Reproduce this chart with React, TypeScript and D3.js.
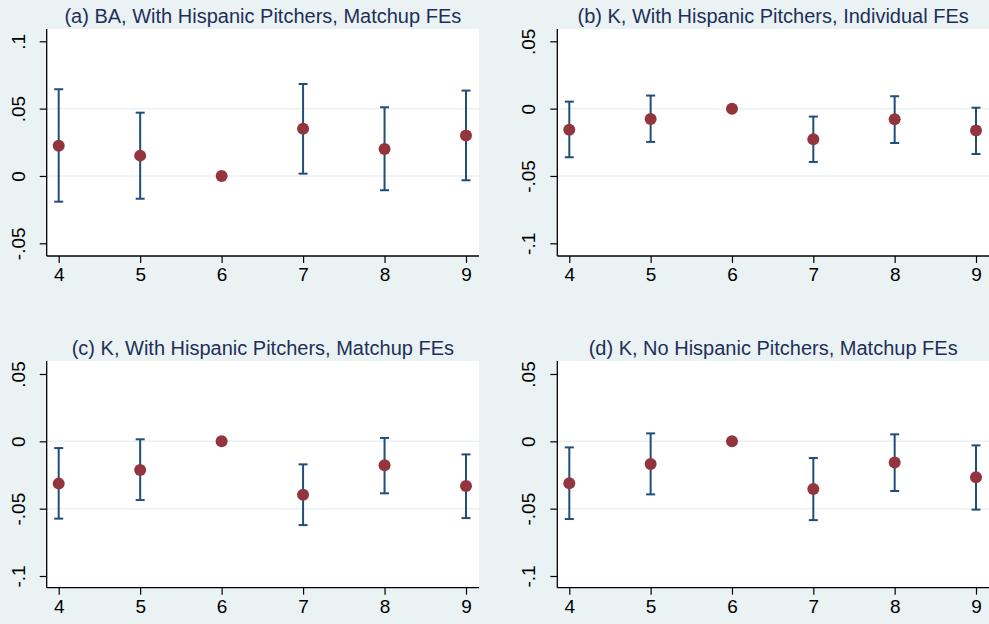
import React, { useEffect, useRef } from 'react';
import * as d3 from 'd3';

// x positions (lineup spot)
const spots = [4, 5, 6, 7, 8, 9];

// panel titles
const titles = [
  '(a) BA, With Hispanic Pitchers, Matchup FEs',
  '(b) K, With Hispanic Pitchers, Individual FEs',
  '(c) K, With Hispanic Pitchers, Matchup FEs',
  '(d) K, No Hispanic Pitchers, Matchup FEs',
];

// point estimates per panel
const estA = [0.0225, 0.0151, 0, 0.0351, 0.0200, 0.0300];
const estB = [-0.0156, -0.0077, 0, -0.0227, -0.0079, -0.0163];
const estC = [-0.0314, -0.0213, 0, -0.0396, -0.0178, -0.0332];
const estD = [-0.0312, -0.0169, 0, -0.0354, -0.0158, -0.0267];

// upper / lower confidence bounds (null = no bar, reference category)
const hiA = [0.0644, 0.0470, null, 0.0683, 0.0510, 0.0634];
const loA = [-0.0191, -0.0169, null, 0.0017, -0.0106, -0.0032];
const hiB = [0.0052, 0.0097, null, -0.0059, 0.0092, 0.0007];
const loB = [-0.0361, -0.0247, null, -0.0396, -0.0255, -0.0337];
const hiC = [-0.0050, 0.0015, null, -0.0171, 0.0025, -0.0097];
const loC = [-0.0574, -0.0436, null, -0.0622, -0.0386, -0.0570];
const hiD = [-0.0045, 0.0059, null, -0.0124, 0.0052, -0.0030];
const loD = [-0.0577, -0.0394, null, -0.0585, -0.0369, -0.0507];

// y ticks per panel
const ticksA = [-0.05, 0, 0.05, 0.1];
const ticksK = [-0.1, -0.05, 0, 0.05];

const fmt = (v: number) => {
  if (v === 0) return '0';
  const s = String(+v.toFixed(2));
  return s.replace('0.', '.');
};

const W = 989;
const H = 624;
const BG = '#eaf2f3';
const NAVY = '#1f4e79';
const MAROON = '#93353d';
const TITLE = '#1e2f5a';
const FONT = '"Liberation Sans", Arial, sans-serif';
const FS = 19;
const TFS = 20;

const App = () => {
  const svgRef = useRef<SVGSVGElement | null>(null);

  useEffect(() => {
    const svg = d3.select(svgRef.current);
    svg.selectAll('*').remove();

    svg.append('rect').attr('width', W).attr('height', H).attr('fill', BG);

    const panels = [
      { title: titles[0], est: estA, hi: hiA, lo: loA, ticks: ticksA, L: 46.7, R: 479, T: 29, B: 256, yTop: 41.3, yBot: 243.3 },
      { title: titles[1], est: estB, hi: hiB, lo: loB, ticks: ticksK, L: 557.3, R: 989, T: 29, B: 256, yTop: 41.3, yBot: 243.3 },
      { title: titles[2], est: estC, hi: hiC, lo: loC, ticks: ticksK, L: 46.7, R: 479, T: 361, B: 587.7, yTop: 374, yBot: 576 },
      { title: titles[3], est: estD, hi: hiD, lo: loD, ticks: ticksK, L: 557.3, R: 989, T: 361, B: 587.7, yTop: 374, yBot: 576 },
    ];

    panels.forEach(p => {
      const g = svg.append('g');

      const x = d3.scaleLinear().domain([4, 9]).range([p.L + 12, p.R - 13]);
      const tMin = d3.min(p.ticks) as number;
      const tMax = d3.max(p.ticks) as number;
      const y = d3.scaleLinear().domain([tMin, tMax]).range([p.yBot, p.yTop]);

      // plot region
      g.append('rect')
        .attr('x', p.L).attr('y', p.T)
        .attr('width', p.R - p.L).attr('height', p.B - p.T)
        .attr('fill', '#ffffff');

      // grid lines at the inner ticks
      g.selectAll('.grid')
        .data(p.ticks.slice(1, -1))
        .enter()
        .append('line')
        .attr('x1', p.L).attr('x2', p.R)
        .attr('y1', d => y(d)).attr('y2', d => y(d))
        .attr('stroke', BG).attr('stroke-width', 1.5);

      // title
      g.append('text')
        .attr('x', (p.L + p.R) / 2)
        .attr('y', p.T - 6)
        .attr('text-anchor', 'middle')
        .attr('font-family', FONT)
        .attr('font-size', TFS)
        .attr('fill', TITLE)
        .text(p.title);

      // y axis
      const yAxis = g.append('g')
        .attr('transform', `translate(${p.L},0)`)
        .call(d3.axisLeft(y).tickValues(p.ticks).tickFormat(d => fmt(+d)).tickSize(7));
      yAxis.select('.domain').remove();
      yAxis.selectAll('line').attr('stroke', '#000').attr('stroke-width', 1.2);
      yAxis.selectAll('text')
        .attr('transform', 'rotate(-90)')
        .attr('x', 0).attr('y', -22).attr('dy', 0)
        .attr('text-anchor', 'middle')
        .attr('font-family', FONT)
        .attr('font-size', FS)
        .attr('fill', '#000');

      // x axis
      const xAxis = g.append('g')
        .attr('transform', `translate(0,${p.B})`)
        .call(d3.axisBottom(x).tickValues(spots).tickFormat(d => String(d)).tickSize(7));
      xAxis.select('.domain').remove();
      xAxis.selectAll('line').attr('stroke', '#000').attr('stroke-width', 1.2);
      xAxis.selectAll('text')
        .attr('y', 12)
        .attr('font-family', FONT)
        .attr('font-size', FS)
        .attr('fill', '#000');

      // axis lines spanning the plot region
      g.append('line')
        .attr('x1', p.L).attr('x2', p.L).attr('y1', p.T).attr('y2', p.B)
        .attr('stroke', '#000').attr('stroke-width', 1.3);
      g.append('line')
        .attr('x1', p.L).attr('x2', p.R).attr('y1', p.B).attr('y2', p.B)
        .attr('stroke', '#000').attr('stroke-width', 1.3);

      // error bars
      const rows = spots.map((s, i) => ({ s, est: p.est[i], hi: p.hi[i], lo: p.lo[i] }));
      const bars = rows.filter(r => r.hi !== null && r.lo !== null);
      const cap = 4.5;
      const eb = g.append('g').attr('stroke', NAVY).attr('stroke-width', 2);
      bars.forEach(r => {
        eb.append('line')
          .attr('x1', x(r.s)).attr('x2', x(r.s))
          .attr('y1', y(r.hi as number)).attr('y2', y(r.lo as number));
        eb.append('line')
          .attr('x1', x(r.s) - cap).attr('x2', x(r.s) + cap)
          .attr('y1', y(r.hi as number)).attr('y2', y(r.hi as number));
        eb.append('line')
          .attr('x1', x(r.s) - cap).attr('x2', x(r.s) + cap)
          .attr('y1', y(r.lo as number)).attr('y2', y(r.lo as number));
      });

      // point estimates
      g.selectAll('.pt')
        .data(rows)
        .enter()
        .append('circle')
        .attr('cx', d => x(d.s))
        .attr('cy', d => y(d.est))
        .attr('r', 6)
        .attr('fill', MAROON);
    });
  }, []);

  return (
    <svg
      ref={svgRef}
      width={W}
      height={H}
      style={{ position: 'absolute', left: 0, top: 0, display: 'block' }}
    />
  );
};

export default App;
